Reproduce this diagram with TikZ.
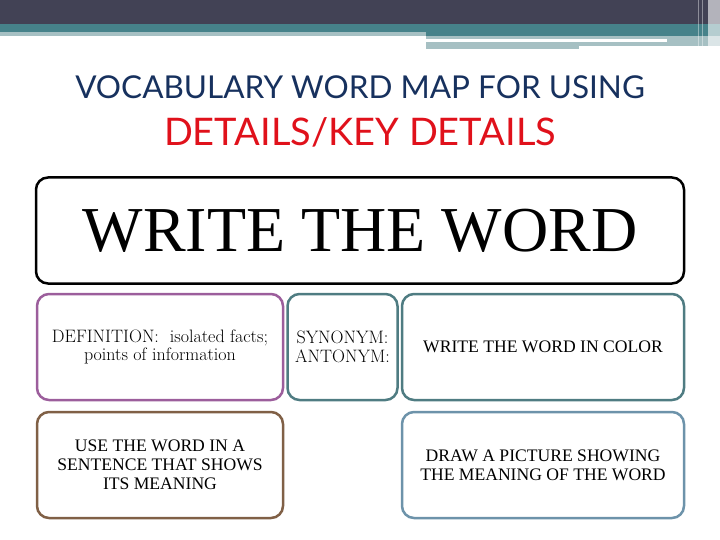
\documentclass[tikz,border=0pt]{standalone}
\usepackage{fontspec}
\newfontfamily\timesfont{Liberation Serif}
\newfontfamily\titlefont{Lato}
\definecolor{barDark}{HTML}{424255}
\definecolor{barTeal}{HTML}{46828A}
\definecolor{barLight}{HTML}{A6C0C3}
\definecolor{titleNavy}{HTML}{17315E}
\definecolor{titleRed}{HTML}{E0111B}
\definecolor{boxPurple}{HTML}{9C5E9C}
\definecolor{boxTeal}{HTML}{4F7C82}
\definecolor{boxBrown}{HTML}{806046}
\definecolor{boxBlue}{HTML}{6D93AA}
\tikzset{
  mapbox/.style={draw, line width=2.5pt, rounded corners=12pt, align=center,
    minimum height=106pt, inner sep=2pt},
  smalltext/.style={font=\fontsize{18}{18.5}\selectfont},
  timestext/.style={font=\timesfont\fontsize{17.6}{19}\selectfont}
}
\begin{document}
\begin{tikzpicture}[x=1pt, y=-1pt]
\useasboundingbox (0,0) rectangle (720,540);
% header bars
\fill[barDark] (0,0) rectangle (720,24);
\fill[barTeal] (0,24) rectangle (720,32);
\fill[barTeal] (426,32) rectangle (720,36);
\fill[barLight] (0,32) rectangle (426,36);
\fill[barLight] (426,36) rectangle (720,46);
\fill[white] (426,39) rectangle (667,42);
\fill[barLight] (426,46) rectangle (579,49);
\fill[white, opacity=0.6] (708,0) rectangle (720,46);
\draw[white, opacity=0.4, line width=1pt] (698,0) -- (698,46);
\draw[white, opacity=0.4, line width=1pt] (702,0) -- (702,46);
% title
\node[text=titleNavy, font=\titlefont\fontsize{31.5}{34}\selectfont] (title) at (360,87) {VOCABULARY WORD MAP FOR USING};
\node[text=titleRed, font=\titlefont\fontsize{38}{40}\selectfont] (subtitle) at (360,132) {DETAILS/KEY DETAILS};
% boxes
\node[mapbox, draw=black, minimum width=648pt, font=\timesfont\fontsize{64}{66}\selectfont] (word) at (360,230.5) {WRITE THE WORD};
\node[mapbox, draw=boxPurple, minimum width=246pt, smalltext] (definition) at (160,347) {DEFINITION:~ isolated facts;\\points of information};
\node[mapbox, draw=boxTeal, minimum width=110pt, smalltext] (synonym) at (342.5,347) {SYNONYM:\\ANTONYM:};
\node[mapbox, draw=boxTeal, minimum width=282pt, timestext] (color) at (543,347) {WRITE THE WORD IN COLOR};
\node[mapbox, draw=boxBrown, minimum width=246pt, timestext] (sentence) at (160,465) {USE THE WORD IN A\\SENTENCE THAT SHOWS\\ITS MEANING};
\node[mapbox, draw=boxBlue, minimum width=282pt, timestext] (picture) at (543,465) {DRAW A PICTURE SHOWING\\THE MEANING OF THE WORD};
\end{tikzpicture}
\end{document}
